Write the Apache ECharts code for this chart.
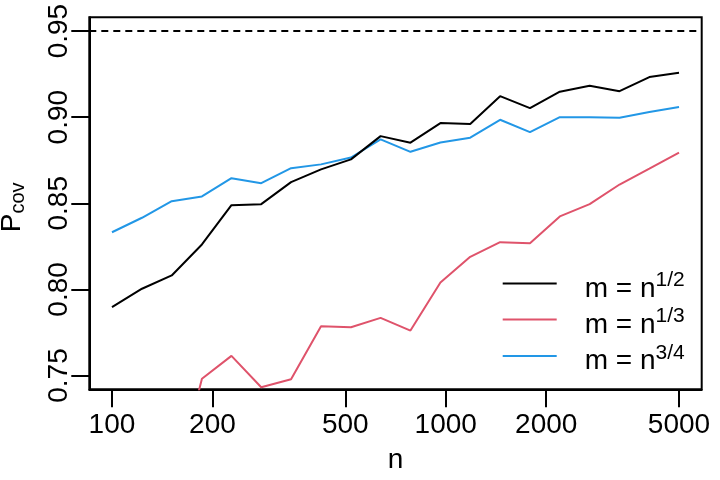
<!DOCTYPE html>
<html>
<head>
<meta charset="utf-8">
<script src="https://cdn.jsdelivr.net/npm/echarts@6/dist/echarts.min.js"></script>
<style>
html,body{margin:0;padding:0;background:#fff;}
#chart{width:720px;height:480px;}
</style>
</head>
<body>
<div id="chart"></div>
<script>
// sample sizes n (log-spaced)
const nValues = [100,123,151,186,228,280,344,423,520,638,784,964,1184,1455,1788,2197,2699,3317,4075,5000];
// coverage probabilities
const covHalf = [0.7897,0.8004,0.8081,0.8261,0.8489,0.8495,0.8623,0.8697,0.8755,0.8890,0.8852,0.8966,0.8960,0.9122,0.9053,0.9148,0.9183,0.9151,0.9233,0.9258];
const covThird = [0.655,0.667,0.679,0.7481,0.7614,0.7432,0.7478,0.7786,0.7780,0.7835,0.7761,0.8040,0.8189,0.8274,0.8268,0.8424,0.8495,0.8609,0.8701,0.8794];
const covThreeQ = [0.8332,0.8416,0.8512,0.8540,0.8646,0.8617,0.8704,0.8726,0.8766,0.8871,0.8799,0.8853,0.8881,0.8985,0.8913,0.9000,0.8999,0.8997,0.9030,0.9059];
const xTicks = [100,200,500,1000,2000,5000];
const yTicks = [0.75,0.80,0.85,0.90,0.95];
const nominal = 0.95;
const seriesNames = ['m = n^(1/2)','m = n^(1/3)','m = n^(3/4)'];
const seriesSup = ['1/2','1/3','3/4'];
const seriesColors = ['#000000','#DF536B','#2297E6'];

const lx0 = Math.log10(100), lx1 = Math.log10(5000);
const dx = (lx1 - lx0) * 0.04;
const y0 = 0.75, y1 = 0.95, dy = (y1 - y0) * 0.04;
const FONT = 'Liberation Sans, Arial, Helvetica, sans-serif';

function toPairs(vals){ return nValues.map((n,i)=>[Math.log10(n), vals[i]]); }
const allVals = [covHalf, covThird, covThreeQ];

const series = allVals.map((vals,k)=>({
  name: seriesNames[k],
  type: 'line',
  data: toPairs(vals),
  showSymbol: false,
  symbol: 'none',
  clip: true,
  lineStyle: {color: seriesColors[k], width: 2},
  itemStyle: {color: seriesColors[k]},
  emphasis: {disabled: true},
  z: 3 + (k===0?2:k===2?1:0),
  markLine: k===0 ? {
    silent: true, symbol: ['none','none'],
    label: {show:false},
    lineStyle: {color:'#000', type:[7,5], width:2},
    data: [{yAxis: nominal}]
  } : undefined
}));

const legendTops = [270, 306, 342.5];
const legends = seriesNames.map((nm,k)=>({
  data: [nm],
  left: 502.7, top: legendTops[k],
  orient: 'vertical',
  padding: 0,
  icon: 'rect',
  itemWidth: 54, itemHeight: 2,
  selectedMode: false,
  formatter: function(){ return '{m|m = n}{s|' + seriesSup[k] + '}'; },
  textStyle: {
    padding: [11,0,0,23],
    color: '#000',
    fontFamily: FONT,
    rich: {
      m: {fontSize: 28, lineHeight: 38, fontFamily: FONT, color:'#000'},
      s: {fontSize: 21, lineHeight: 22, verticalAlign: 'top', fontFamily: FONT, color:'#000'}
    }
  }
}));

const chart = echarts.init(document.getElementById('chart'), null, {renderer:'canvas'});
chart.setOption({
  animation: false,
  backgroundColor: '#fff',
  grid: {left: 89.3, top: 17.3, right: 18.3, bottom: 90.7, outerBoundsMode: 'none', containLabel: false,
    show: true, borderColor: '#000', borderWidth: 2, backgroundColor: 'transparent'},
  legend: legends,
  xAxis: {
    type: 'value', min: lx0 - dx, max: lx1 + dx,
    name: 'n', nameLocation: 'middle', nameGap: 57,
    nameTextStyle: {fontSize: 28, fontFamily: FONT, color:'#000'},
    axisLine: {show: true, onZero:false, lineStyle:{color:'#000', width:2}},
    axisTick: {show: true, inside:false, length: 18, lineStyle:{color:'#000', width:2}, customValues: xTicks.map(v=>Math.log10(v))},
    axisLabel: {show: true, margin: 22, fontSize: 28, fontFamily: FONT, color:'#000',
      customValues: xTicks.map(v=>Math.log10(v)),
      formatter: v => String(Math.round(Math.pow(10, v)))},
    splitLine: {show:false}
  },
  yAxis: {
    type: 'value', min: y0 - dy, max: y1 + dy,
    name: '{p|P}{s|cov}', nameLocation: 'middle', nameGap: 61, nameRotate: 90,
    nameTextStyle: {color:'#000', fontFamily: FONT, padding: [0, 8, 0, 0],
      rich: {
        p: {fontSize: 28, lineHeight: 32, fontFamily: FONT, color:'#000'},
        s: {fontSize: 20, lineHeight: 20, verticalAlign:'bottom', fontFamily: FONT, color:'#000'}
      }},
    axisLine: {show: true, onZero:false, lineStyle:{color:'#000', width:2}},
    axisTick: {show: true, inside:false, length: 18, lineStyle:{color:'#000', width:2}, customValues: yTicks},
    axisLabel: {show: true, rotate: 90, margin: 16, fontSize: 28, fontFamily: FONT, color:'#000',
      customValues: yTicks,
      formatter: v => v.toFixed(2)},
    splitLine: {show:false}
  },
  series: series
});
</script>
</body>
</html>
